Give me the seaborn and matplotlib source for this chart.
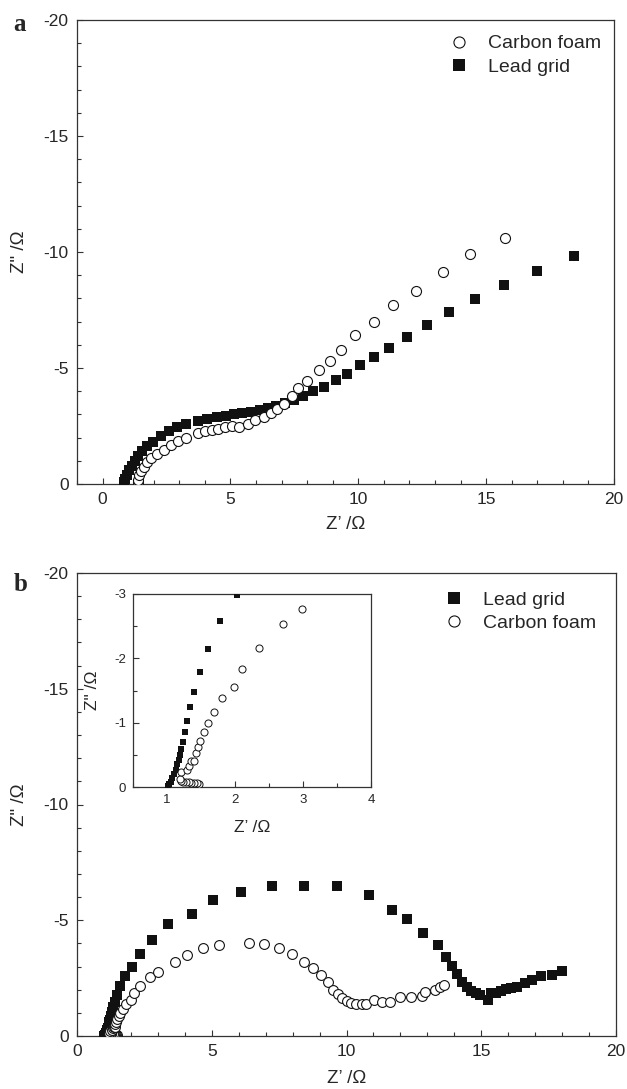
import numpy as np
import pandas as pd
import matplotlib
matplotlib.use("Agg")
import matplotlib.pyplot as plt
from matplotlib.ticker import MultipleLocator
from matplotlib.lines import Line2D
import seaborn as sns

# ---------------- data ----------------
# Panel a  (Z' in ohm, Z'' in ohm)
a_carbon_x = [1.37, 1.39, 1.42, 1.50, 1.61, 1.73, 1.89, 2.13, 2.39, 2.67, 2.94, 3.28, 3.75, 4.00,
              4.27, 4.53, 4.78, 5.08, 5.33, 5.67, 5.98, 6.30, 6.58, 6.84, 7.11, 7.39, 7.63, 7.98,
              8.48, 8.88, 9.34, 9.88, 10.61, 11.34, 12.27, 13.30, 14.36, 15.75]
a_carbon_y = [-0.07, -0.19, -0.37, -0.56, -0.74, -0.93, -1.11, -1.29, -1.48, -1.68, -1.85, -2.00,
              -2.18, -2.27, -2.34, -2.37, -2.45, -2.49, -2.45, -2.57, -2.74, -2.89, -3.04, -3.22,
              -3.46, -3.81, -4.12, -4.45, -4.90, -5.30, -5.76, -6.42, -6.97, -7.72, -8.31, -9.12,
              -9.91, -10.61]
a_lead_x = [0.84, 0.88, 0.95, 1.03, 1.14, 1.25, 1.38, 1.53, 1.73, 1.98, 2.30, 2.59, 2.92, 3.25,
            3.75, 4.09, 4.47, 4.81, 5.13, 5.47, 5.81, 6.17, 6.48, 6.80, 7.13, 7.48, 7.84, 8.23,
            8.64, 9.13, 9.55, 10.05, 10.61, 11.20, 11.92, 12.69, 13.56, 14.56, 15.70, 17.00, 18.45]
a_lead_y = [-0.07, -0.22, -0.40, -0.59, -0.79, -0.99, -1.22, -1.41, -1.63, -1.82, -2.08, -2.30,
            -2.45, -2.57, -2.72, -2.80, -2.89, -2.95, -3.00, -3.06, -3.12, -3.19, -3.26, -3.37,
            -3.49, -3.64, -3.78, -3.99, -4.20, -4.48, -4.75, -5.12, -5.47, -5.85, -6.34, -6.87,
            -7.43, -7.97, -8.56, -9.17, -9.82]

# Panel b
b_lead_x = [1.02, 1.03, 1.06, 1.08, 1.11, 1.13, 1.15, 1.17, 1.19, 1.20, 1.23, 1.26, 1.30, 1.34,
            1.40, 1.49, 1.60, 1.78, 2.03, 2.34, 2.80, 3.36, 4.26, 5.06, 6.10, 7.23, 8.41, 9.66,
            10.83, 11.67, 12.23, 12.85, 13.40, 13.70, 13.90, 14.11, 14.29, 14.48, 14.63, 14.79,
            14.95, 15.25, 15.35, 15.53, 15.72, 15.90, 16.09, 16.31, 16.61, 16.87, 17.20, 17.64, 18.01]
b_lead_y = [-0.01, -0.04, -0.08, -0.14, -0.20, -0.27, -0.35, -0.42, -0.50, -0.59, -0.70, -0.85,
            -1.03, -1.24, -1.48, -1.79, -2.14, -2.58, -2.99, -3.55, -4.15, -4.83, -5.29, -5.89,
            -6.24, -6.47, -6.50, -6.48, -6.07, -5.44, -5.05, -4.43, -3.93, -3.42, -3.02, -2.66,
            -2.35, -2.13, -1.94, -1.84, -1.77, -1.55, -1.84, -1.87, -1.94, -2.01, -2.06, -2.10,
            -2.27, -2.42, -2.60, -2.63, -2.82]
b_carbon_x = [1.47, 1.44, 1.40, 1.36, 1.32, 1.28, 1.24, 1.21, 1.19, 1.21, 1.29, 1.33, 1.36, 1.40,
              1.42, 1.45, 1.49, 1.54, 1.61, 1.69, 1.81, 1.99, 2.10, 2.35, 2.71, 2.99, 3.63, 4.08,
              4.67, 5.28, 6.37, 6.93, 7.51, 7.99, 8.42, 8.76, 9.06, 9.30, 9.51, 9.67, 9.85, 10.02,
              10.16, 10.34, 10.57, 10.74, 11.01, 11.32, 11.61, 12.00, 12.40, 12.81, 12.93, 13.30,
              13.47, 13.61]
b_carbon_y = [-0.05, -0.06, -0.06, -0.06, -0.07, -0.07, -0.08, -0.09, -0.12, -0.23, -0.26, -0.33,
              -0.40, -0.41, -0.53, -0.62, -0.72, -0.85, -0.99, -1.17, -1.39, -1.56, -1.84, -2.16,
              -2.53, -2.77, -3.21, -3.49, -3.78, -3.93, -4.03, -3.96, -3.78, -3.54, -3.21, -2.95,
              -2.63, -2.34, -2.00, -1.81, -1.66, -1.51, -1.44, -1.39, -1.39, -1.39, -1.56, -1.48,
              -1.45, -1.67, -1.70, -1.74, -1.91, -1.99, -2.10, -2.20]

a_xticks = [0, 5, 10, 15, 20]
yticks = [0, -5, -10, -15, -20]
inset_xticks = [1, 2, 3, 4]
inset_yticks = [0, -1, -2, -3]

# ---------------- style ----------------
sns.set_style("ticks")
plt.rcParams['font.family'] = ['Liberation Sans', 'DejaVu Sans']
plt.rcParams['axes.unicode_minus'] = False

W, H = 627, 1089
fig = plt.figure(figsize=(W / 100, H / 100), dpi=100)


def px_axes(l, t, r, b):
    return fig.add_axes([l / W, 1 - b / H, (r - l) / W, (b - t) / H])


def style_axes(ax, minor, lab_size):
    ax.xaxis.set_minor_locator(MultipleLocator(minor[0]))
    ax.yaxis.set_minor_locator(MultipleLocator(minor[1]))
    ax.tick_params(which='both', direction='in', top=False, right=False,
                   labelsize=lab_size, color='#333333', width=0.8)
    ax.tick_params(which='major', length=4, pad=6)
    ax.tick_params(which='minor', length=3)
    for s in ax.spines.values():
        s.set_visible(True)
        s.set_linewidth(0.9)
        s.set_color('#333333')


xlabel = "Z\u2019 /\u03A9"
ylabel = "Z\" /\u03A9"

hc = Line2D([], [], marker='o', linestyle='none', markersize=8, markerfacecolor='white',
            markeredgecolor='#111111', markeredgewidth=0.8)
hl = Line2D([], [], marker='s', linestyle='none', markersize=8, markerfacecolor='#111111',
            markeredgewidth=0)
leg_kw = dict(loc='upper left', frameon=False, fontsize=14, handlelength=1,
              handletextpad=1.0, borderpad=0, borderaxespad=0, labelspacing=0.28)

# ---------------- panel a ----------------
ax_a = px_axes(77, 20, 614, 484)
df_a_c = pd.DataFrame({"x": a_carbon_x, "y": a_carbon_y})
df_a_l = pd.DataFrame({"x": a_lead_x, "y": a_lead_y})
sns.scatterplot(data=df_a_l, x="x", y="y", ax=ax_a, marker='s', s=48,
                color='#111111', linewidth=0, zorder=3)
sns.scatterplot(data=df_a_c, x="x", y="y", ax=ax_a, marker='o', s=52,
                facecolor='white', edgecolor='#111111', linewidth=0.8, zorder=4)
ax_a.set_xlim(-1, 20)
ax_a.set_ylim(0, -20)
ax_a.set_xticks(a_xticks)
ax_a.set_yticks(yticks)
style_axes(ax_a, (1, 1), 12.5)
ax_a.set_xlabel(xlabel, fontsize=13.5, labelpad=6)
ax_a.set_ylabel(ylabel, fontsize=13.5, labelpad=11)
ax_a.legend([hc, hl], ["Carbon foam", "Lead grid"], bbox_to_anchor=(0.693, 0.968), **leg_kw)
fig.text(13 / W, 1 - 31 / H, "a", fontsize=18, fontweight='bold',
         family=['Liberation Serif', 'DejaVu Serif'], ha='left', va='baseline')

# ---------------- panel b ----------------
ax_b = px_axes(77, 573, 616, 1036)
df_b_c = pd.DataFrame({"x": b_carbon_x, "y": b_carbon_y})
df_b_l = pd.DataFrame({"x": b_lead_x, "y": b_lead_y})
sns.scatterplot(data=df_b_l, x="x", y="y", ax=ax_b, marker='s', s=46,
                color='#111111', linewidth=0, zorder=3)
sns.scatterplot(data=df_b_c, x="x", y="y", ax=ax_b, marker='o', s=50,
                facecolor='white', edgecolor='#111111', linewidth=0.8, zorder=4)
ax_b.set_xlim(0, 20)
ax_b.set_ylim(0, -20)
ax_b.set_xticks(a_xticks)
ax_b.set_yticks(yticks)
style_axes(ax_b, (1, 1), 12.5)
ax_b.set_xlabel(xlabel, fontsize=13.5, labelpad=8)
ax_b.set_ylabel(ylabel, fontsize=13.5, labelpad=11)
ax_b.legend([hl, hc], ["Lead grid", "Carbon foam"], bbox_to_anchor=(0.681, 0.96), **leg_kw)
fig.text(14 / W, 1 - 591 / H, "b", fontsize=18, fontweight='bold',
         family=['Liberation Serif', 'DejaVu Serif'], ha='left', va='baseline')

# ---------------- inset ----------------
ax_i = px_axes(133, 594, 371, 787)
sns.scatterplot(data=df_b_l, x="x", y="y", ax=ax_i, marker='s', s=22,
                color='#111111', linewidth=0, zorder=3)
sns.scatterplot(data=df_b_c, x="x", y="y", ax=ax_i, marker='o', s=26,
                facecolor='white', edgecolor='#111111', linewidth=0.7, zorder=4)
ax_i.set_xlim(0.5, 4)
ax_i.set_ylim(0, -3)
ax_i.set_xticks(inset_xticks)
ax_i.set_yticks(inset_yticks)
style_axes(ax_i, (0.5, 0.5), 9.5)
ax_i.tick_params(which='major', pad=5)
ax_i.set_xlabel(xlabel, fontsize=12.5, labelpad=10)
ax_i.set_ylabel(ylabel, fontsize=12.5, labelpad=10)

fig.savefig("out.png", dpi=100)
